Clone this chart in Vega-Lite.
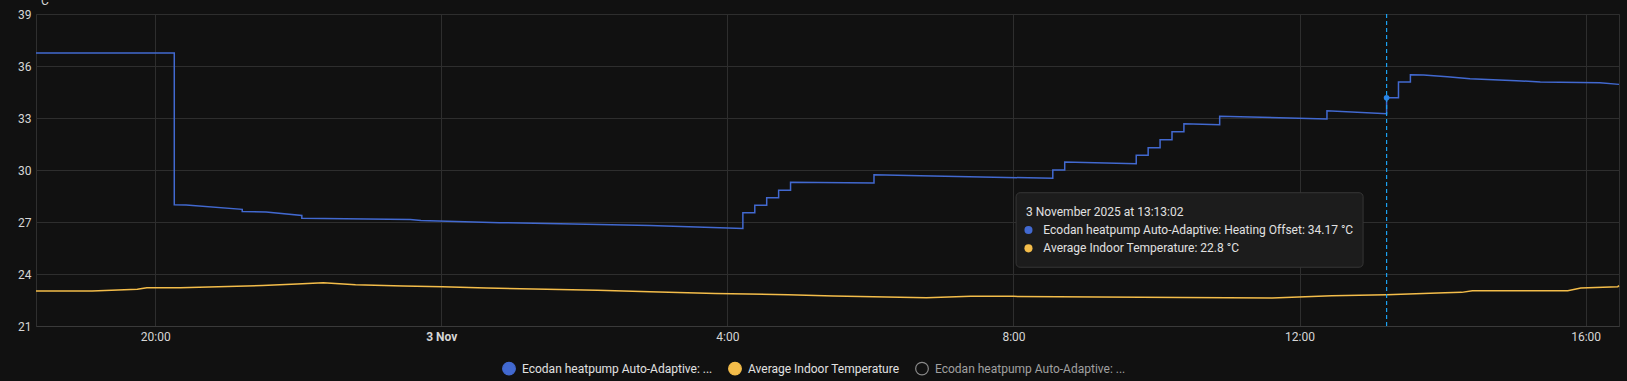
{
  "$schema": "https://vega.github.io/schema/vega-lite/v6.json",
  "width": 1583,
  "height": 312,
  "autosize": {"type": "none"},
  "padding": {"left": 36, "top": 14, "right": 8, "bottom": 55},
  "background": "#111111",
  "config": {
    "view": {"stroke": "#2f2f2f", "strokeWidth": 1},
    "font": "Roboto",
    "axis": {"gridColor": "#2e2e2e", "gridWidth": 1, "labelColor": "#d6d6d6", "labelFont": "Roboto", "labelFontSize": 12, "ticks": false, "domain": false}
  },
  "datasets": {
    "history": [
      {"i": 0, "t": "2025-11-02T18:20:00Z", "v": 36.75, "s": "Heating Offset"},
      {"i": 1, "t": "2025-11-02T20:16:00Z", "v": 36.75, "s": "Heating Offset"},
      {"i": 2, "t": "2025-11-02T20:16:00Z", "v": 28.0, "s": "Heating Offset"},
      {"i": 3, "t": "2025-11-02T20:26:00Z", "v": 27.98, "s": "Heating Offset"},
      {"i": 4, "t": "2025-11-02T21:13:00Z", "v": 27.73, "s": "Heating Offset"},
      {"i": 5, "t": "2025-11-02T21:13:00Z", "v": 27.6, "s": "Heating Offset"},
      {"i": 6, "t": "2025-11-02T21:33:00Z", "v": 27.58, "s": "Heating Offset"},
      {"i": 7, "t": "2025-11-02T22:03:00Z", "v": 27.38, "s": "Heating Offset"},
      {"i": 8, "t": "2025-11-02T22:03:00Z", "v": 27.21, "s": "Heating Offset"},
      {"i": 9, "t": "2025-11-02T23:34:00Z", "v": 27.15, "s": "Heating Offset"},
      {"i": 10, "t": "2025-11-02T23:43:00Z", "v": 27.08, "s": "Heating Offset"},
      {"i": 11, "t": "2025-11-03T00:49:00Z", "v": 26.96, "s": "Heating Offset"},
      {"i": 12, "t": "2025-11-03T01:40:00Z", "v": 26.9, "s": "Heating Offset"},
      {"i": 13, "t": "2025-11-03T02:55:00Z", "v": 26.8, "s": "Heating Offset"},
      {"i": 14, "t": "2025-11-03T04:13:00Z", "v": 26.63, "s": "Heating Offset"},
      {"i": 15, "t": "2025-11-03T04:13:00Z", "v": 27.54, "s": "Heating Offset"},
      {"i": 16, "t": "2025-11-03T04:23:00Z", "v": 27.54, "s": "Heating Offset"},
      {"i": 17, "t": "2025-11-03T04:23:00Z", "v": 27.96, "s": "Heating Offset"},
      {"i": 18, "t": "2025-11-03T04:33:00Z", "v": 27.96, "s": "Heating Offset"},
      {"i": 19, "t": "2025-11-03T04:33:00Z", "v": 28.4, "s": "Heating Offset"},
      {"i": 20, "t": "2025-11-03T04:43:00Z", "v": 28.4, "s": "Heating Offset"},
      {"i": 21, "t": "2025-11-03T04:43:00Z", "v": 28.83, "s": "Heating Offset"},
      {"i": 22, "t": "2025-11-03T04:53:00Z", "v": 28.83, "s": "Heating Offset"},
      {"i": 23, "t": "2025-11-03T04:53:00Z", "v": 29.29, "s": "Heating Offset"},
      {"i": 24, "t": "2025-11-03T06:03:00Z", "v": 29.25, "s": "Heating Offset"},
      {"i": 25, "t": "2025-11-03T06:03:00Z", "v": 29.73, "s": "Heating Offset"},
      {"i": 26, "t": "2025-11-03T06:42:00Z", "v": 29.67, "s": "Heating Offset"},
      {"i": 27, "t": "2025-11-03T08:33:00Z", "v": 29.52, "s": "Heating Offset"},
      {"i": 28, "t": "2025-11-03T08:33:00Z", "v": 30.0, "s": "Heating Offset"},
      {"i": 29, "t": "2025-11-03T08:43:00Z", "v": 30.0, "s": "Heating Offset"},
      {"i": 30, "t": "2025-11-03T08:43:00Z", "v": 30.46, "s": "Heating Offset"},
      {"i": 31, "t": "2025-11-03T09:43:00Z", "v": 30.36, "s": "Heating Offset"},
      {"i": 32, "t": "2025-11-03T09:43:00Z", "v": 30.85, "s": "Heating Offset"},
      {"i": 33, "t": "2025-11-03T09:53:00Z", "v": 30.85, "s": "Heating Offset"},
      {"i": 34, "t": "2025-11-03T09:53:00Z", "v": 31.29, "s": "Heating Offset"},
      {"i": 35, "t": "2025-11-03T10:03:00Z", "v": 31.29, "s": "Heating Offset"},
      {"i": 36, "t": "2025-11-03T10:03:00Z", "v": 31.75, "s": "Heating Offset"},
      {"i": 37, "t": "2025-11-03T10:13:00Z", "v": 31.75, "s": "Heating Offset"},
      {"i": 38, "t": "2025-11-03T10:13:00Z", "v": 32.21, "s": "Heating Offset"},
      {"i": 39, "t": "2025-11-03T10:23:00Z", "v": 32.21, "s": "Heating Offset"},
      {"i": 40, "t": "2025-11-03T10:23:00Z", "v": 32.67, "s": "Heating Offset"},
      {"i": 41, "t": "2025-11-03T10:53:00Z", "v": 32.61, "s": "Heating Offset"},
      {"i": 42, "t": "2025-11-03T10:53:00Z", "v": 33.1, "s": "Heating Offset"},
      {"i": 43, "t": "2025-11-03T12:23:00Z", "v": 32.94, "s": "Heating Offset"},
      {"i": 44, "t": "2025-11-03T12:23:00Z", "v": 33.42, "s": "Heating Offset"},
      {"i": 45, "t": "2025-11-03T13:13:02Z", "v": 33.25, "s": "Heating Offset"},
      {"i": 46, "t": "2025-11-03T13:13:02Z", "v": 34.17, "s": "Heating Offset"},
      {"i": 47, "t": "2025-11-03T13:23:00Z", "v": 34.17, "s": "Heating Offset"},
      {"i": 48, "t": "2025-11-03T13:23:00Z", "v": 35.08, "s": "Heating Offset"},
      {"i": 49, "t": "2025-11-03T13:33:00Z", "v": 35.08, "s": "Heating Offset"},
      {"i": 50, "t": "2025-11-03T13:33:00Z", "v": 35.5, "s": "Heating Offset"},
      {"i": 51, "t": "2025-11-03T13:44:00Z", "v": 35.48, "s": "Heating Offset"},
      {"i": 52, "t": "2025-11-03T14:04:00Z", "v": 35.38, "s": "Heating Offset"},
      {"i": 53, "t": "2025-11-03T14:23:00Z", "v": 35.27, "s": "Heating Offset"},
      {"i": 54, "t": "2025-11-03T15:02:00Z", "v": 35.15, "s": "Heating Offset"},
      {"i": 55, "t": "2025-11-03T15:22:00Z", "v": 35.08, "s": "Heating Offset"},
      {"i": 56, "t": "2025-11-03T16:12:00Z", "v": 35.04, "s": "Heating Offset"},
      {"i": 57, "t": "2025-11-03T16:28:00Z", "v": 34.94, "s": "Heating Offset"},
      {"i": 100, "t": "2025-11-02T18:20:00Z", "v": 23.02, "s": "Average Indoor Temperature"},
      {"i": 101, "t": "2025-11-02T19:07:00Z", "v": 23.02, "s": "Average Indoor Temperature"},
      {"i": 102, "t": "2025-11-02T19:45:00Z", "v": 23.12, "s": "Average Indoor Temperature"},
      {"i": 103, "t": "2025-11-02T19:53:00Z", "v": 23.21, "s": "Average Indoor Temperature"},
      {"i": 104, "t": "2025-11-02T20:21:00Z", "v": 23.21, "s": "Average Indoor Temperature"},
      {"i": 105, "t": "2025-11-02T21:30:00Z", "v": 23.33, "s": "Average Indoor Temperature"},
      {"i": 106, "t": "2025-11-02T21:59:00Z", "v": 23.42, "s": "Average Indoor Temperature"},
      {"i": 107, "t": "2025-11-02T22:21:00Z", "v": 23.5, "s": "Average Indoor Temperature"},
      {"i": 108, "t": "2025-11-02T22:48:00Z", "v": 23.38, "s": "Average Indoor Temperature"},
      {"i": 109, "t": "2025-11-02T23:28:00Z", "v": 23.31, "s": "Average Indoor Temperature"},
      {"i": 110, "t": "2025-11-03T00:01:00Z", "v": 23.27, "s": "Average Indoor Temperature"},
      {"i": 111, "t": "2025-11-03T00:38:00Z", "v": 23.19, "s": "Average Indoor Temperature"},
      {"i": 112, "t": "2025-11-03T02:11:00Z", "v": 23.06, "s": "Average Indoor Temperature"},
      {"i": 113, "t": "2025-11-03T02:55:00Z", "v": 22.98, "s": "Average Indoor Temperature"},
      {"i": 114, "t": "2025-11-03T03:50:00Z", "v": 22.88, "s": "Average Indoor Temperature"},
      {"i": 115, "t": "2025-11-03T04:51:00Z", "v": 22.8, "s": "Average Indoor Temperature"},
      {"i": 116, "t": "2025-11-03T05:29:00Z", "v": 22.73, "s": "Average Indoor Temperature"},
      {"i": 117, "t": "2025-11-03T06:47:00Z", "v": 22.63, "s": "Average Indoor Temperature"},
      {"i": 118, "t": "2025-11-03T07:24:00Z", "v": 22.71, "s": "Average Indoor Temperature"},
      {"i": 119, "t": "2025-11-03T08:00:00Z", "v": 22.71, "s": "Average Indoor Temperature"},
      {"i": 120, "t": "2025-11-03T10:22:00Z", "v": 22.64, "s": "Average Indoor Temperature"},
      {"i": 121, "t": "2025-11-03T11:37:00Z", "v": 22.62, "s": "Average Indoor Temperature"},
      {"i": 122, "t": "2025-11-03T12:27:00Z", "v": 22.75, "s": "Average Indoor Temperature"},
      {"i": 123, "t": "2025-11-03T13:13:02Z", "v": 22.8, "s": "Average Indoor Temperature"},
      {"i": 124, "t": "2025-11-03T14:02:00Z", "v": 22.92, "s": "Average Indoor Temperature"},
      {"i": 125, "t": "2025-11-03T14:16:00Z", "v": 22.94, "s": "Average Indoor Temperature"},
      {"i": 126, "t": "2025-11-03T14:25:00Z", "v": 23.04, "s": "Average Indoor Temperature"},
      {"i": 127, "t": "2025-11-03T15:45:00Z", "v": 23.04, "s": "Average Indoor Temperature"},
      {"i": 128, "t": "2025-11-03T15:56:00Z", "v": 23.19, "s": "Average Indoor Temperature"},
      {"i": 129, "t": "2025-11-03T16:27:00Z", "v": 23.27, "s": "Average Indoor Temperature"},
      {"i": 130, "t": "2025-11-03T16:28:00Z", "v": 23.33, "s": "Average Indoor Temperature"}
    ]
  },
  "data": {"name": "history"},
  "layer": [
    {
      "mark": {"type": "line", "strokeWidth": 1.5, "interpolate": "linear"},
      "encoding": {
        "x": {
          "field": "t", "type": "temporal",
          "scale": {"type": "utc", "domain": [
            {"year": 2025, "month": 11, "date": 2, "hours": 18, "minutes": 20, "utc": true},
            {"year": 2025, "month": 11, "date": 3, "hours": 16, "minutes": 28, "utc": true}
          ]},
          "axis": {
            "title": null,
            "grid": true,
            "domain": true,
            "domainColor": "#3a3a3a",
            "labelPadding": 5,
            "labelFlush": false,
            "values": [
              {"year": 2025, "month": 11, "date": 2, "hours": 20, "utc": true},
              {"year": 2025, "month": 11, "date": 3, "hours": 0, "utc": true},
              {"year": 2025, "month": 11, "date": 3, "hours": 4, "utc": true},
              {"year": 2025, "month": 11, "date": 3, "hours": 8, "utc": true},
              {"year": 2025, "month": 11, "date": 3, "hours": 12, "utc": true},
              {"year": 2025, "month": 11, "date": 3, "hours": 16, "utc": true}
            ],
            "labelExpr": "utchours(datum.value) == 0 ? utcFormat(datum.value, '%-d %b') : utcFormat(datum.value, '%-H:%M')",
            "labelFontWeight": {"condition": {"test": "utchours(datum.value) == 0", "value": "bold"}, "value": "normal"}
          }
        },
        "y": {
          "field": "v", "type": "quantitative",
          "scale": {"domain": [21, 39], "nice": false, "zero": false},
          "axis": {
            "values": [21, 24, 27, 30, 33, 36, 39],
            "grid": true,
            "labelPadding": 5,
            "title": "°C",
            "titleAngle": 0,
            "titleAlign": "left",
            "titleBaseline": "alphabetic",
            "titleX": 0,
            "titleY": -9.5,
            "titleColor": "#d6d6d6",
            "titleFont": "Roboto",
            "titleFontSize": 12,
            "titleFontWeight": "normal"
          }
        },
        "color": {
          "field": "s", "type": "nominal",
          "scale": {"domain": ["Heating Offset", "Average Indoor Temperature", "Flow Temperature"], "range": ["#4269d0", "#f4bd4a", "#8a8a8a"]},
          "legend": {
            "title": null,
            "orient": "none",
            "legendX": 466,
            "legendY": 347.5,
            "direction": "horizontal",
            "padding": 0,
            "symbolType": "circle",
            "symbolSize": 160,
            "symbolStrokeWidth": 1.2,
            "labelFont": "Roboto",
            "labelFontSize": 12,
            "labelColor": "#e1e1e1",
            "labelOffset": 6,
            "labelLimit": 400,
            "columnPadding": 13,
            "labelExpr": "datum.label == 'Average Indoor Temperature' ? datum.label : 'Ecodan heatpump Auto-Adaptive: ...'",
            "encode": {
              "symbols": {"update": {
                "fill": [{"test": "datum.value === 'Flow Temperature'", "value": "transparent"}, {"scale": "color", "field": "value"}],
                "stroke": [{"test": "datum.value === 'Flow Temperature'", "value": "#8a8a8a"}, {"scale": "color", "field": "value"}],
                "opacity": {"value": 1}
              }},
              "labels": {"update": {
                "fill": [{"test": "datum.value === 'Flow Temperature'", "value": "#a0a0a0"}, {"value": "#e1e1e1"}]
              }}
            }
          }
        },
        "order": {"field": "i"}
      }
    },
    {
      "data": {"values": [{}]},
      "mark": {"type": "rule", "color": "#1ba1f2", "strokeDash": [4, 3], "strokeWidth": 1.2},
      "encoding": {
        "x": {"datum": {"year": 2025, "month": 11, "date": 3, "hours": 13, "minutes": 13, "seconds": 2, "utc": true}, "type": "temporal"}
      }
    },
    {
      "data": {"values": [{}]},
      "mark": {"type": "point", "filled": true, "size": 32, "color": "#2a86e8", "opacity": 1},
      "encoding": {
        "x": {"datum": {"year": 2025, "month": 11, "date": 3, "hours": 13, "minutes": 13, "seconds": 2, "utc": true}, "type": "temporal"},
        "y": {"datum": 34.17, "type": "quantitative"}
      }
    },
    {
      "data": {"values": [{}]},
      "mark": {"type": "rect", "fill": "#1c1c1c", "stroke": "#363636", "strokeWidth": 1, "cornerRadius": 4},
      "encoding": {
        "x": {"datum": {"year": 2025, "month": 11, "date": 3, "hours": 8, "minutes": 2, "seconds": 12, "utc": true}, "type": "temporal"},
        "x2": {"datum": {"year": 2025, "month": 11, "date": 3, "hours": 12, "minutes": 53, "seconds": 18, "utc": true}},
        "y": {"datum": 28.69, "type": "quantitative"},
        "y2": {"datum": 24.39}
      }
    },
    {
      "data": {"values": [{}]},
      "mark": {"type": "text", "text": "3 November 2025 at 13:13:02", "align": "left", "baseline": "middle", "font": "Roboto", "fontSize": 12, "color": "#e1e1e1"},
      "encoding": {
        "x": {"datum": {"year": 2025, "month": 11, "date": 3, "hours": 8, "minutes": 10, "seconds": 30, "utc": true}, "type": "temporal"},
        "y": {"datum": 27.58, "type": "quantitative"}
      }
    },
    {
      "data": {"values": [{}]},
      "mark": {"type": "point", "filled": true, "size": 65, "color": "#4269d0", "opacity": 1},
      "encoding": {
        "x": {"datum": {"year": 2025, "month": 11, "date": 3, "hours": 8, "minutes": 12, "seconds": 36, "utc": true}, "type": "temporal"},
        "y": {"datum": 26.54, "type": "quantitative"}
      }
    },
    {
      "data": {"values": [{}]},
      "mark": {"type": "point", "filled": true, "size": 65, "color": "#f4bd4a", "opacity": 1},
      "encoding": {
        "x": {"datum": {"year": 2025, "month": 11, "date": 3, "hours": 8, "minutes": 12, "seconds": 36, "utc": true}, "type": "temporal"},
        "y": {"datum": 25.48, "type": "quantitative"}
      }
    },
    {
      "data": {"values": [{}]},
      "mark": {"type": "text", "text": "Ecodan heatpump Auto-Adaptive: Heating Offset: 34.17 °C", "align": "left", "baseline": "middle", "font": "Roboto", "fontSize": 12, "color": "#e1e1e1"},
      "encoding": {
        "x": {"datum": {"year": 2025, "month": 11, "date": 3, "hours": 8, "minutes": 25, "seconds": 6, "utc": true}, "type": "temporal"},
        "y": {"datum": 26.54, "type": "quantitative"}
      }
    },
    {
      "data": {"values": [{}]},
      "mark": {"type": "text", "text": "Average Indoor Temperature: 22.8 °C", "align": "left", "baseline": "middle", "font": "Roboto", "fontSize": 12, "color": "#e1e1e1"},
      "encoding": {
        "x": {"datum": {"year": 2025, "month": 11, "date": 3, "hours": 8, "minutes": 25, "seconds": 6, "utc": true}, "type": "temporal"},
        "y": {"datum": 25.48, "type": "quantitative"}
      }
    }
  ]
}
